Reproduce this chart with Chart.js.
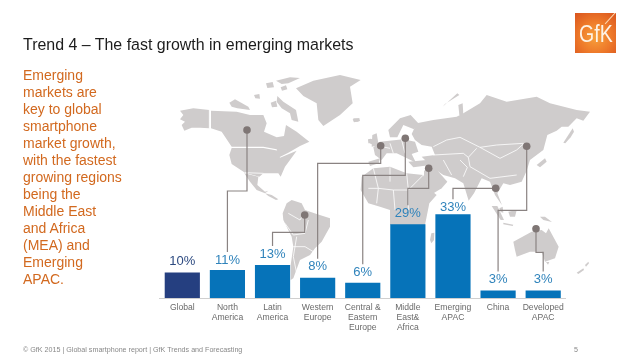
<!DOCTYPE html>
<html>
<head>
<meta charset="utf-8">
<title>Trend 4</title>
<script src="https://cdn.jsdelivr.net/npm/chart.js@4"></script>
<style>
  html, body { margin: 0; background: #fff; }
  #slide { position: relative; width: 638px; height: 359px; overflow: hidden; font-family: "Liberation Sans", Arial, sans-serif; }
  #chart { position: absolute; left: 0; top: 0; }
  .title { position: absolute; left: 23px; top: 36px; font-size: 15.95px; color: #1c1c1c; white-space: nowrap; }
  .side { position: absolute; left: 23px; top: 67px; font-size: 14px; line-height: 17px; color: #d2691f; white-space: pre; }
  .foot { position: absolute; top: 346px; font-size: 7.15px; color: #888; white-space: nowrap; }
  .logo { position: absolute; left: 575px; top: 13px; width: 41px; height: 40px; overflow: hidden;
    background: radial-gradient(circle at 50% 60%, #f7a13c 0%, #ee7a2a 50%, #d9541e 100%); }
  .logo span { position: absolute; left: 4px; top: 8px; font-size: 23px; color: #fdf3e6; transform: scaleX(0.85); transform-origin: left top; }
  .logo i { position: absolute; left: 35px; top: -3px; width: 1px; height: 16px; background: #fbd9b0; transform: rotate(42deg); }
</style>
</head>
<body>
<div id="slide">
  <canvas id="chart" width="638" height="359"></canvas>
  <div class="title">Trend 4 – The fast growth in emerging markets</div>
  <div class="side">Emerging
markets are
key to global
smartphone
market growth,
with the fastest
growing regions
being the
Middle East
and Africa
(MEA) and
Emerging
APAC.</div>
  <div class="foot" style="left:23px">© GfK 2015 | Global smartphone report | GfK Trends and Forecasting</div>
  <div class="foot" style="left:574px">5</div>
  <div class="logo"><span>GfK</span><i></i></div>
</div>
<script>
const categories = [
  ['Global'],
  ['North', 'America'],
  ['Latin', 'America'],
  ['Western', 'Europe'],
  ['Central &', 'Eastern', 'Europe'],
  ['Middle', 'East&', 'Africa'],
  ['Emerging', 'APAC'],
  ['China'],
  ['Developed', 'APAC']
];
const growth = [10, 11, 13, 8, 6, 29, 33, 3, 3];
const barColors = ['#253f80', '#0673b9', '#0673b9', '#0673b9', '#0673b9', '#0673b9', '#0673b9', '#0673b9', '#0673b9'];
const labelColors = ['#2d4a80', '#2f83bb', '#2f83bb', '#2f83bb', '#2f83bb', '#2f83bb', '#2f83bb', '#2f83bb', '#2f83bb'];
const labelGaps = [11, 10, 11, 11, 10.5, 11, 7, 11, 11];

// callouts from the map down to each bar: dot, then the y of the elbow
const callouts = [
  null,
  { dot: [247, 130], elbow: 191 },
  { dot: [304.7, 215], elbow: 232.3 },
  { dot: [380.7, 145.7], elbow: 163.3 },
  { dot: [405.3, 138.3], elbow: 175.3 },
  { dot: [428.7, 168.3], elbow: 188.3 },
  { dot: [495.7, 188.3], elbow: 188.3 },
  { dot: [526.7, 146.3], elbow: 210.3 },
  { dot: [536, 228.7], elbow: 252.3 }
];

// map outlines, each group noted from a crop: [originX, originY, points at 3x]
const landNorthAmerica = [
  [90,152, 130,145, 178,150, 178,205, 150,203, 125,203, 103,212, 95,195, 105,185, 90,178, 100,165],
  [183,152, 260,155, 300,165, 340,165, 350,190, 342,215, 380,232, 402,228, 408,195, 440,215, 478,245, 450,258, 415,278, 388,292, 380,268, 340,260, 245,260, 215,215, 183,205],
  [245,264, 340,264, 385,272, 390,293, 440,272, 420,300, 405,320, 392,350, 385,340, 340,340, 328,350, 285,338, 245,312, 238,285],
  [283,340, 325,350, 322,375, 345,395, 355,392, 345,400, 320,390, 300,365],
  [345,400, 365,405, 385,418, 378,420, 355,408],
  [438,85, 490,62, 570,45, 632,60, 600,80, 608,130, 570,165, 520,198, 505,180, 500,130, 460,108],
  [238,128, 255,118, 295,140, 300,150, 262,145, 245,140],
  [348,70, 368,66, 372,82, 352,84],
  [378,62, 420,52, 450,54, 415,70, 395,72],
  [392,82, 408,76, 412,88, 396,92],
  [312,105, 328,102, 330,116, 316,115],
  [362,128, 378,122, 382,140, 366,142],
  [382,108, 400,125, 438,150, 445,185, 425,180, 420,160, 395,145, 380,125],
  [608,178, 628,175, 630,183, 612,187],
  [655,240, 672,235, 678,255, 662,252]
];
const landSouthAmerica = [
  [110,40, 125,30, 155,40, 165,60, 200,72, 240,85, 240,110, 215,155, 195,175, 180,195, 150,210, 130,265, 122,270, 122,225, 130,170, 125,140, 100,90, 98,70]
];
const landEuropeAfrica = [
  [65,200, 100,175, 150,170, 200,190, 250,195, 265,235, 290,255, 268,280, 255,345, 150,345, 150,300, 120,290, 85,280, 62,240],
  [85,155, 120,145, 116,160, 90,168],
  [100,112, 120,95, 190,88, 225,95, 235,125, 215,132, 228,158, 195,142, 170,130, 140,130, 125,150, 105,135],
  [145,60, 180,25, 212,15, 235,40, 222,58, 190,45, 172,82, 150,82],
  [97,75, 110,70, 116,106, 95,110],
  [84,88, 93,86, 93,100, 85,100],
  [205,155, 260,150, 272,165, 220,172],
  [252,182, 282,170, 322,215, 305,235, 272,255, 252,205],
  [40,25, 58,25, 55,35, 42,35]
];
const landAsia = [
  [95,222, 110,190, 160,180, 230,170, 250,160, 300,130, 320,105, 380,125, 470,110, 510,130, 590,150, 630,155, 610,182, 590,175, 565,200, 545,200, 530,212, 502,225, 490,270, 450,300, 440,332, 425,365, 390,375, 370,370, 352,400, 366,436, 345,405, 330,365, 305,355, 282,400, 266,422, 250,370, 225,355, 190,345, 160,325, 145,310, 125,290, 165,285, 155,260, 125,255, 105,240],
  [550,248, 578,205, 582,215, 572,232, 556,250],
  [470,315, 495,295, 500,305, 480,322],
  [188,140, 232,100, 238,105, 195,132],
  [235,135, 248,130, 250,165, 238,165]
];
const landOceania = [
  [160,215, 215,185, 245,180, 258,190, 266,175, 296,230, 285,265, 255,275, 245,245, 210,245, 170,260, 165,240],
  [95,108, 112,108, 132,150, 122,150],
  [145,125, 170,120, 165,140, 150,140],
  [240,140, 255,140, 276,156, 250,150],
  [130,158, 160,164, 158,168, 130,163],
  [118,115, 128,110, 130,128, 122,126],
  [350,308, 370,295, 372,300, 355,312],
  [375,285, 385,275, 387,280, 378,290],
  [258,276, 268,276, 264,284]
];
const landMadagascar = [[184,130, 193,128, 192,150, 184,160, 180,150]];
const mapGroups = [
  [150, 60, landNorthAmerica],
  [250, 190, landSouthAmerica],
  [340, 110, landEuropeAfrica],
  [380, 60, landAsia],
  [460, 170, landOceania],
  [370, 190, landMadagascar]
];
// white country borders
const bordersAsia = [
  [160,260, 200,240, 240,232, 300,262, 350,255, 430,250, 445,265],
  [300,262, 360,295, 410,270, 430,252],
  [160,285, 250,280, 265,292, 290,265],
  [265,292, 270,320, 330,355, 410,345],
  [190,300, 215,345],
  [240,300, 262,322, 250,350]
];
const bordersSouthAmerica = [
  [115,70, 150,90, 165,65],
  [105,100, 130,135, 165,130, 175,90],
  [130,170, 165,170, 190,185],
  [140,140, 130,200, 140,250]
];
const bordersEuropeAfrica = [
  [100,175, 115,235, 160,240, 205,240],
  [150,172, 150,215],
  [200,190, 205,240, 205,300],
  [250,195, 205,240],
  [85,235, 115,235, 110,280],
  [160,240, 165,300],
  [150,100, 160,130],
  [185,90, 195,130],
  [125,110, 150,115]
];
const bordersNorthAmerica = [[178,148, 178,205], [340,340, 285,338]];
const borderGroups = [
  [380, 60, bordersAsia],
  [250, 190, bordersSouthAmerica],
  [340, 110, bordersEuropeAfrica],
  [150, 60, bordersNorthAmerica]
];

function tracePath(ctx, ox, oy, pts) {
  ctx.beginPath();
  for (let i = 0; i < pts.length; i += 2) {
    const x = ox + pts[i] / 3, y = oy + pts[i + 1] / 3;
    if (i === 0) ctx.moveTo(x, y); else ctx.lineTo(x, y);
  }
}

const mapPlugin = {
  id: 'map',
  beforeDatasetsDraw(chart) {
    const { ctx, scales } = chart;
    ctx.save();
    ctx.fillStyle = '#cfcccc';
    mapGroups.forEach(([ox, oy, shapes]) => shapes.forEach(pts => {
      tracePath(ctx, ox, oy, pts);
      ctx.closePath();
      ctx.fill();
    }));
    ctx.strokeStyle = '#fff';
    ctx.lineWidth = 0.8;
    borderGroups.forEach(([ox, oy, lines]) => lines.forEach(pts => {
      tracePath(ctx, ox, oy, pts);
      ctx.stroke();
    }));
    // callout lines run to just above each value label
    ctx.strokeStyle = '#8a8382';
    ctx.lineWidth = 1.2;
    callouts.forEach((c, i) => {
      if (!c) return;
      const x = scales.x.getPixelForValue(i);
      const end = scales.y.getPixelForValue(growth[i]) - labelGaps[i] - 8;
      ctx.beginPath();
      ctx.moveTo(c.dot[0], c.dot[1]);
      ctx.lineTo(c.dot[0], c.elbow);
      ctx.lineTo(x, c.elbow);
      ctx.lineTo(x, end);
      ctx.stroke();
    });
    ctx.fillStyle = '#7f7675';
    callouts.forEach(c => {
      if (!c) return;
      ctx.beginPath();
      ctx.arc(c.dot[0], c.dot[1], 3.8, 0, Math.PI * 2);
      ctx.fill();
    });
    ctx.restore();
  }
};

const valueLabels = {
  id: 'valueLabels',
  afterDatasetsDraw(chart) {
    const { ctx, scales } = chart;
    ctx.save();
    ctx.font = '13px "Liberation Sans", Arial, sans-serif';
    ctx.textAlign = 'center';
    ctx.textBaseline = 'middle';
    growth.forEach((v, i) => {
      ctx.fillStyle = labelColors[i];
      ctx.fillText(v + '%', scales.x.getPixelForValue(i), scales.y.getPixelForValue(v) - labelGaps[i]);
    });
    ctx.restore();
  }
};

new Chart(document.getElementById('chart'), {
  type: 'bar',
  data: {
    labels: categories,
    datasets: [{ data: growth, backgroundColor: barColors, barPercentage: 0.78, categoryPercentage: 1 }]
  },
  options: {
    responsive: false,
    animation: false,
    layout: { padding: { left: 159.75, right: 72.25, top: 196.4, bottom: 0 } },
    plugins: { legend: { display: false }, tooltip: { enabled: false } },
    scales: {
      x: {
        afterFit: s => { s.height = 61; },
        grid: { display: false, drawTicks: false },
        border: { color: '#cfcfcf' },
        ticks: {
          color: '#6a6a6a',
          padding: 5,
          maxRotation: 0,
          autoSkip: false,
          font: { family: '"Liberation Sans", Arial, sans-serif', size: 8.6, lineHeight: 1.16 }
        }
      },
      y: { display: false, min: 0, max: 40 }
    }
  },
  plugins: [mapPlugin, valueLabels]
});
</script>
</body>
</html>
